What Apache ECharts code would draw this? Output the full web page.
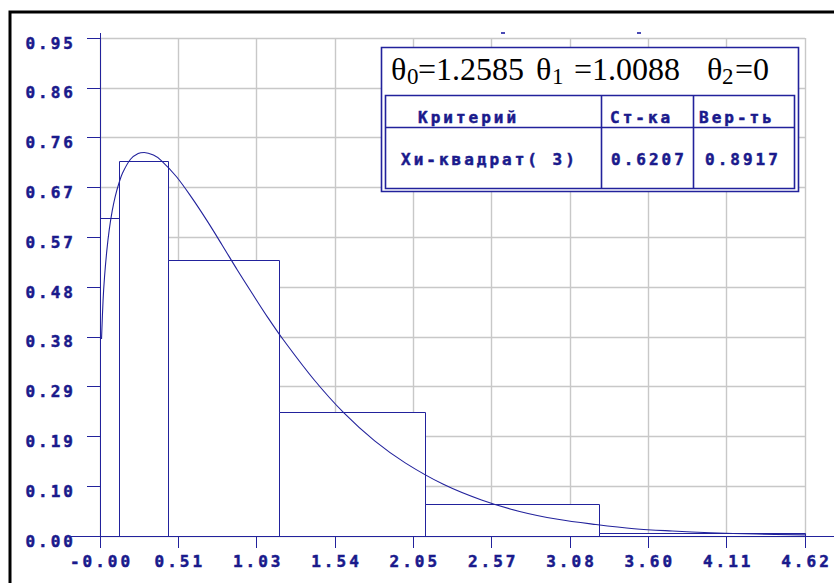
<!DOCTYPE html>
<html>
<head>
<meta charset="utf-8">
<script src="https://cdn.jsdelivr.net/npm/echarts/dist/echarts.min.js"></script>
<style>
  html, body { margin: 0; padding: 0; background: #ffffff; }
  #chart { width: 834px; height: 583px; }
  /* wide, evenly spaced bitmap-style lettering for the monospace labels */
  text[style*="DejaVu Sans Mono"] { letter-spacing: 3px; }
</style>
</head>
<body>
<div id="chart"></div>
<script>
// Axis tick labels
const xTickLabels = ['-0.00', '0.51', '1.03', '1.54', '2.05', '2.57', '3.08', '3.60', '4.11', '4.62'];
const yTickLabels = ['0.00', '0.10', '0.19', '0.29', '0.38', '0.48', '0.57', '0.67', '0.76', '0.86', '0.95'];
const xMax = 4.62;
const yMax = 0.953;

// Histogram: bin edges and bar heights (density)
const binEdges = [0, 0.125, 0.450, 1.176, 2.131, 3.276, 4.62];
const binHeights = [0.608, 0.717, 0.528, 0.236, 0.061, 0.005];

// Fitted density curve
const curveX = [0.01, 0.02, 0.03, 0.045, 0.06, 0.08, 0.1, 0.125, 0.15, 0.2, 0.25, 0.29, 0.35, 0.4,
  0.5, 0.6, 0.7, 0.8, 0.9, 1.0, 1.1, 1.2, 1.4, 1.6, 1.8, 2.0, 2.25, 2.5, 2.75, 3.0, 3.25, 3.5,
  3.75, 4.0, 4.3, 4.62];
const curveY = [0.377, 0.450, 0.497, 0.547, 0.585, 0.622, 0.650, 0.676, 0.696, 0.721, 0.732, 0.734,
  0.729, 0.719, 0.688, 0.648, 0.604, 0.557, 0.509, 0.463, 0.418, 0.376, 0.300, 0.235, 0.182, 0.140,
  0.099, 0.069, 0.047, 0.032, 0.022, 0.014, 0.0095, 0.0062, 0.0037, 0.0021];

// Parameter estimates and goodness-of-fit table
const thetaNames = ['0', '1', '2'];
const thetaValues = ['1.2585', '1.0088', '0'];
const tableHeader = ['Критерий', 'Ст-ка', 'Вер-ть'];
const tableRow = ['Хи-квадрат( 3)', '0.6207', '0.8917'];

const BLUE = '#22229c';
const TEXT = '#1a1a8c';
const MONO = 'DejaVu Sans Mono';
const SERIF = 'Liberation Serif';
const MONO_SIZE = 16;
const MONO_STROKE = 0.5;

const xInterval = xMax / (xTickLabels.length - 1);
const yInterval = yMax / (yTickLabels.length - 1);

const bins = binHeights.map((h, i) => [binEdges[i], binEdges[i + 1], h]);
const curve = curveX.map((x, i) => [x, curveY[i]]);

const chart = echarts.init(document.getElementById('chart'), null, { renderer: 'svg' });

const crisp = v => Math.round(v - 0.5) + 0.5;

function monoText(x, y, text, align) {
  return {
    type: 'text', z: 102, x: x, y: y,
    style: {
      text: text, fill: TEXT, fontFamily: MONO, fontWeight: 'bold', fontSize: MONO_SIZE,
      stroke: TEXT, lineWidth: MONO_STROKE,
      align: align || 'left', verticalAlign: 'middle'
    }
  };
}
function serifText(x, y, text, size) {
  return {
    type: 'text', z: 102, x: x, y: y,
    style: {
      text: text, fill: '#000000', fontFamily: SERIF, fontSize: size,
      align: 'left', verticalAlign: 'middle'
    }
  };
}
function hLine(x1, x2, y, color, w) {
  return { type: 'line', z: 101, shape: { x1: x1, y1: y, x2: x2, y2: y },
    style: { stroke: color, lineWidth: w || 1 } };
}
function vLine(x, y1, y2, color, w) {
  return { type: 'line', z: 101, shape: { x1: x, y1: y1, x2: x, y2: y2 },
    style: { stroke: color, lineWidth: w || 1 } };
}

// Parameter line: θ with subscript, then "=value"
const mainY = 68.5, subY = 76.5;
const thetaX = [391, 536, 707];
const subX = [407, 552, 722];
const valX = [418, 574, 735];
const headerTexts = [];
thetaNames.forEach((n, i) => {
  headerTexts.push(serifText(thetaX[i], mainY, 'θ', 32));
  headerTexts.push(serifText(subX[i], subY, n, 23));
  headerTexts.push(serifText(valX[i], mainY, '=' + thetaValues[i], 32));
});

const TW = 1.6;
const graphics = [
  // outer frame
  { type: 'rect', z: 100, shape: { x: 10, y: 12, width: 900, height: 700 },
    style: { fill: 'none', stroke: '#000000', lineWidth: 3 } },
  // axis lines
  vLine(100.5, 33, 537, BLUE),
  hLine(65, 834, 536.5, BLUE),
  // small marks above the plot
  { type: 'rect', z: 100, shape: { x: 501, y: 32, width: 4, height: 2 }, style: { fill: '#4a4ab4' } },
  { type: 'rect', z: 100, shape: { x: 637, y: 32, width: 4, height: 2 }, style: { fill: '#4a4ab4' } },
  // results box
  { type: 'rect', z: 100, shape: { x: 381.5, y: 47.5, width: 417, height: 144 },
    style: { fill: '#ffffff', stroke: BLUE, lineWidth: TW } },
  { type: 'rect', z: 101, shape: { x: 385.5, y: 95.5, width: 409, height: 93 },
    style: { fill: 'none', stroke: BLUE, lineWidth: TW } },
  hLine(385.5, 794.5, 127.5, BLUE, TW),
  vLine(601.5, 95.5, 188.5, BLUE, TW),
  vLine(693.5, 95.5, 188.5, BLUE, TW),
  monoText(418, 117, tableHeader[0]),
  monoText(610, 117, tableHeader[1]),
  monoText(699, 117, tableHeader[2]),
  monoText(401, 159.5, tableRow[0]),
  monoText(611, 159.5, tableRow[1]),
  monoText(705, 159.5, tableRow[2])
].concat(headerTexts);

const axisLabelFont = {
  color: TEXT, fontFamily: MONO, fontWeight: 'bold', fontSize: MONO_SIZE,
  textBorderColor: TEXT, textBorderWidth: MONO_STROKE
};

chart.setOption({
  animation: false,
  backgroundColor: '#ffffff',
  grid: { left: 100, right: 29, top: 38, bottom: 47, containLabel: false, outerBoundsMode: 'none' },
  xAxis: {
    type: 'value', min: 0, max: xMax, interval: xInterval,
    axisLine: { show: false },
    axisTick: { show: true, length: 12, lineStyle: { color: BLUE, width: 1 } },
    axisLabel: Object.assign({
      show: true, margin: 17, verticalAlign: 'top', padding: [0, 0, 0, 3],
      formatter: v => xTickLabels[Math.round(v / xInterval)]
    }, axisLabelFont),
    splitLine: { show: true, lineStyle: { color: '#c8c8c8', width: 1.4 } }
  },
  yAxis: {
    type: 'value', min: 0, max: yMax, interval: yInterval,
    axisLine: { show: false },
    axisTick: { show: true, length: 13, lineStyle: { color: BLUE, width: 1 } },
    axisLabel: Object.assign({
      show: true, margin: 24, verticalAlign: 'top', lineHeight: 10,
      formatter: v => yTickLabels[Math.round(v / yInterval)]
    }, axisLabelFont),
    splitLine: { show: true, lineStyle: { color: '#c8c8c8', width: 1.4 } }
  },
  series: [
    {
      type: 'custom',
      z: 3,
      data: bins,
      encode: { x: [0, 1], y: 2 },
      renderItem: function (params, api) {
        const p0 = api.coord([api.value(0), api.value(2)]);
        const p1 = api.coord([api.value(1), 0]);
        const x0 = crisp(p0[0]), x1 = crisp(p1[0]);
        const y0 = crisp(p0[1]), y1 = crisp(p1[1]);
        return {
          type: 'rect',
          shape: { x: x0, y: y0, width: x1 - x0, height: y1 - y0 },
          style: { fill: '#ffffff', stroke: BLUE, lineWidth: 1 }
        };
      }
    },
    {
      type: 'line',
      z: 4,
      data: curve,
      showSymbol: false,
      symbol: 'none',
      smooth: 0.35,
      lineStyle: { color: BLUE, width: 1.1 }
    }
  ],
  graphic: graphics
});
</script>
</body>
</html>
